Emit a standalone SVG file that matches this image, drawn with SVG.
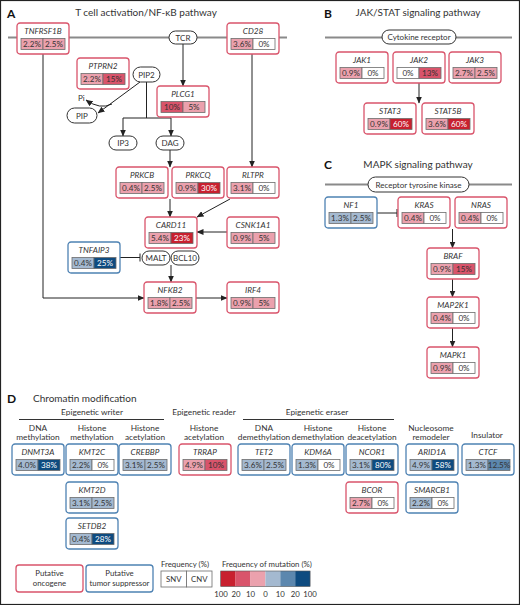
<svg xmlns="http://www.w3.org/2000/svg" width="520" height="605" viewBox="0 0 520 605">
<defs>
<marker id="ah" markerUnits="userSpaceOnUse" markerWidth="7" markerHeight="6" refX="6.5" refY="3" orient="auto">
<path d="M0,0 L7,3 L0,6 z" fill="#222"/>
</marker>
</defs>
<style>
text{font-family:Lato,"Open Sans","Liberation Sans",sans-serif;fill:#333}
.box{fill:#fff;stroke-width:1.3}
.onc .box{stroke:#d9546b}
.tsg .box{stroke:#4e82b3}
.lbl{font-style:italic;font-size:8.2px;text-anchor:middle}
.cell{stroke:#6d6d6d;stroke-width:0.8}
.ct{font-size:8.1px;text-anchor:middle}
.wt{fill:#fff}
.w{fill:#fff}.lp{fill:#eba1ad}.mr{fill:#d9546b}.dr{fill:#c8202f}
.lb{fill:#a4b9d0}.mb{fill:#5c87ae}.db{fill:#0e4b80}
.pill{fill:#fff;stroke:#333;stroke-width:1}
.pt{font-size:8px;text-anchor:middle}
.mem{stroke:#8a8a8a;stroke-width:2}
.con{stroke:#222;stroke-width:1;fill:none}
.ttl{font-size:10px;text-anchor:middle}
.pl{font-size:12px;font-weight:bold;fill:#111}
.hd{font-size:8.3px;text-anchor:middle}
.hl{stroke:#333;stroke-width:1}
.lg{font-size:7.8px;text-anchor:middle}
</style>
<rect x="0.5" y="0.5" width="519" height="604" fill="#fff" stroke="#222" stroke-width="1.2"/>

<!-- Panel titles -->
<text class="pl" x="7" y="18">A</text>
<text class="ttl" x="146" y="16">T cell activation/NF-κB pathway</text>
<text class="pl" x="324" y="18">B</text>
<text class="ttl" x="418" y="16">JAK/STAT signaling pathway</text>
<text class="pl" x="324" y="169">C</text>
<text class="ttl" x="418" y="168">MAPK signaling pathway</text>
<text class="pl" x="7" y="403">D</text>
<text x="33" y="402" style="font-size:10px">Chromatin modification</text>

<!-- membranes -->
<g id="membranes">
<line class="mem" x1="8" y1="37.5" x2="287" y2="37.5"/>
<line class="mem" x1="325" y1="37.5" x2="512" y2="37.5"/>
<line class="mem" x1="325" y1="184.5" x2="512" y2="184.5"/>
</g>

<!-- connectors -->
<g id="connectors">
<path class="con" d="M183,44 V86" marker-end="url(#ah)"/>
<path class="con" d="M252,53 V167" marker-end="url(#ah)"/>
<path class="con" d="M140,82 L98,113" marker-end="url(#ah)"/>
<path class="con" d="M112,104 Q100,110 86,100" marker-end="url(#ah)"/>
<path class="con" d="M146.5,82 V118 M123,118 H171"/>
<path class="con" d="M123,118 V136" marker-end="url(#ah)"/>
<path class="con" d="M171,118 V136" marker-end="url(#ah)"/>
<path class="con" d="M170,150 V167" marker-end="url(#ah)"/>
<path class="con" d="M170,199 V217" marker-end="url(#ah)"/>
<path class="con" d="M230,199 L197,217" marker-end="url(#ah)"/>
<path class="con" d="M227,232 H197" marker-end="url(#ah)"/>
<path class="con" d="M119,257.5 H140 M140,253.5 V261.5"/>
<path class="con" d="M171,265 V282" marker-end="url(#ah)"/>
<path class="con" d="M43,54 V298 H144" marker-end="url(#ah)"/>
<path class="con" d="M196,298 H227" marker-end="url(#ah)"/>
<path class="con" d="M419,82 V103" marker-end="url(#ah)"/>
<path class="con" d="M377,213 H397 M397,209 V217"/>
<path class="con" d="M452.5,229 V248" marker-end="url(#ah)"/>
<path class="con" d="M452.5,279 V297" marker-end="url(#ah)"/>
<path class="con" d="M452.5,328 V347" marker-end="url(#ah)"/>
</g>

<!-- pills -->
<g id="TCR"><rect class="pill" x="169" y="31" width="28" height="13" rx="6.5"/><text class="pt" x="183" y="40.5">TCR</text></g>
<g id="PIP2"><rect class="pill" x="133" y="67" width="27" height="15" rx="7.5"/><text class="pt" x="146.5" y="77.5">PIP2</text></g>
<g id="PIP"><rect class="pill" x="67" y="108" width="30" height="15" rx="7.5"/><text class="pt" x="82" y="118.5">PIP</text></g>
<g id="Pi"><text x="78" y="101" style="font-size:8px;fill:#333">Pi</text></g>
<g id="IP3"><rect class="pill" x="109" y="136" width="28" height="14" rx="7"/><text class="pt" x="123" y="146">IP3</text></g>
<g id="DAG"><rect class="pill" x="156" y="136" width="28" height="14" rx="7"/><text class="pt" x="170" y="146">DAG</text></g>
<g id="MALT"><rect class="pill" x="142" y="251" width="28" height="14" rx="7"/><text class="pt" x="156" y="261">MALT</text></g>
<g id="BCL10"><rect class="pill" x="171" y="251" width="28" height="14" rx="7"/><text class="pt" x="185" y="261">BCL10</text></g>
<g id="CytokineReceptor"><rect class="pill" x="382" y="30" width="74" height="14" rx="7"/><text class="pt" x="419" y="40">Cytokine receptor</text></g>
<g id="RTK"><rect class="pill" x="368" y="177" width="101" height="15" rx="7.5"/><text class="pt" x="418.5" y="187.5">Receptor tyrosine kinase</text></g>

<!-- Panel A genes -->
<g id="TNFRSF1B" class="onc" transform="translate(17,23)"><rect class="box" width="52" height="31" rx="3"/><text class="lbl" x="26" y="11">TNFRSF1B</text><rect class="cell lp" x="4" y="15.5" width="22" height="11"/><rect class="cell lp" x="26" y="15.5" width="22" height="11"/><text class="ct" x="15" y="24">2.2%</text><text class="ct" x="37" y="24">2.5%</text></g>
<g id="CD28" class="onc" transform="translate(227,23)"><rect class="box" width="52" height="31" rx="3"/><text class="lbl" x="26" y="11">CD28</text><rect class="cell lp" x="4" y="15.5" width="22" height="11"/><rect class="cell w" x="26" y="15.5" width="22" height="11"/><text class="ct" x="15" y="24">3.6%</text><text class="ct" x="37" y="24">0%</text></g>
<g id="PTPRN2" class="onc" transform="translate(77,58)"><rect class="box" width="52" height="31" rx="3"/><text class="lbl" x="26" y="11">PTPRN2</text><rect class="cell lp" x="4" y="15.5" width="22" height="11"/><rect class="cell mr" x="26" y="15.5" width="22" height="11"/><text class="ct" x="15" y="24">2.2%</text><text class="ct" x="37" y="24">15%</text></g>
<g id="PLCG1" class="onc" transform="translate(157,86)"><rect class="box" width="52" height="31" rx="3"/><text class="lbl" x="26" y="11">PLCG1</text><rect class="cell mr" x="4" y="15.5" width="22" height="11"/><rect class="cell lp" x="26" y="15.5" width="22" height="11"/><text class="ct" x="15" y="24">10%</text><text class="ct" x="37" y="24">5%</text></g>
<g id="PRKCB" class="onc" transform="translate(116,167)"><rect class="box" width="52" height="31" rx="3"/><text class="lbl" x="26" y="11">PRKCB</text><rect class="cell lp" x="4" y="15.5" width="22" height="11"/><rect class="cell lp" x="26" y="15.5" width="22" height="11"/><text class="ct" x="15" y="24">0.4%</text><text class="ct" x="37" y="24">2.5%</text></g>
<g id="PRKCQ" class="onc" transform="translate(172,167)"><rect class="box" width="52" height="31" rx="3"/><text class="lbl" x="26" y="11">PRKCQ</text><rect class="cell lp" x="4" y="15.5" width="22" height="11"/><rect class="cell dr" x="26" y="15.5" width="22" height="11"/><text class="ct" x="15" y="24">0.9%</text><text class="ct wt" x="37" y="24">30%</text></g>
<g id="RLTPR" class="onc" transform="translate(227,167)"><rect class="box" width="52" height="31" rx="3"/><text class="lbl" x="26" y="11">RLTPR</text><rect class="cell lp" x="4" y="15.5" width="22" height="11"/><rect class="cell w" x="26" y="15.5" width="22" height="11"/><text class="ct" x="15" y="24">3.1%</text><text class="ct" x="37" y="24">0%</text></g>
<g id="CARD11" class="onc" transform="translate(145,217)"><rect class="box" width="52" height="31" rx="3"/><text class="lbl" x="26" y="11">CARD11</text><rect class="cell lp" x="4" y="15.5" width="22" height="11"/><rect class="cell dr" x="26" y="15.5" width="22" height="11"/><text class="ct" x="15" y="24">5.4%</text><text class="ct wt" x="37" y="24">23%</text></g>
<g id="CSNK1A1" class="onc" transform="translate(227,217)"><rect class="box" width="52" height="31" rx="3"/><text class="lbl" x="26" y="11">CSNK1A1</text><rect class="cell lp" x="4" y="15.5" width="22" height="11"/><rect class="cell lp" x="26" y="15.5" width="22" height="11"/><text class="ct" x="15" y="24">0.9%</text><text class="ct" x="37" y="24">5%</text></g>
<g id="TNFAIP3" class="tsg" transform="translate(68,242)"><rect class="box" width="52" height="31" rx="3"/><text class="lbl" x="26" y="11">TNFAIP3</text><rect class="cell lb" x="4" y="15.5" width="22" height="11"/><rect class="cell db" x="26" y="15.5" width="22" height="11"/><text class="ct" x="15" y="24">0.4%</text><text class="ct wt" x="37" y="24">25%</text></g>
<g id="NFKB2" class="onc" transform="translate(144,282)"><rect class="box" width="52" height="31" rx="3"/><text class="lbl" x="26" y="11">NFKB2</text><rect class="cell lp" x="4" y="15.5" width="22" height="11"/><rect class="cell lp" x="26" y="15.5" width="22" height="11"/><text class="ct" x="15" y="24">1.8%</text><text class="ct" x="37" y="24">2.5%</text></g>
<g id="IRF4" class="onc" transform="translate(227,282)"><rect class="box" width="52" height="31" rx="3"/><text class="lbl" x="26" y="11">IRF4</text><rect class="cell lp" x="4" y="15.5" width="22" height="11"/><rect class="cell lp" x="26" y="15.5" width="22" height="11"/><text class="ct" x="15" y="24">0.9%</text><text class="ct" x="37" y="24">5%</text></g>

<!-- Panel B genes -->
<g id="JAK1" class="onc" transform="translate(336,52)"><rect class="box" width="52" height="31" rx="3"/><text class="lbl" x="26" y="11">JAK1</text><rect class="cell lp" x="4" y="15.5" width="22" height="11"/><rect class="cell w" x="26" y="15.5" width="22" height="11"/><text class="ct" x="15" y="24">0.9%</text><text class="ct" x="37" y="24">0%</text></g>
<g id="JAK2" class="onc" transform="translate(393,52)"><rect class="box" width="52" height="31" rx="3"/><text class="lbl" x="26" y="11">JAK2</text><rect class="cell w" x="4" y="15.5" width="22" height="11"/><rect class="cell mr" x="26" y="15.5" width="22" height="11"/><text class="ct" x="15" y="24">0%</text><text class="ct" x="37" y="24">13%</text></g>
<g id="JAK3" class="onc" transform="translate(449,52)"><rect class="box" width="52" height="31" rx="3"/><text class="lbl" x="26" y="11">JAK3</text><rect class="cell lp" x="4" y="15.5" width="22" height="11"/><rect class="cell lp" x="26" y="15.5" width="22" height="11"/><text class="ct" x="15" y="24">2.7%</text><text class="ct" x="37" y="24">2.5%</text></g>
<g id="STAT3" class="onc" transform="translate(364,103)"><rect class="box" width="52" height="31" rx="3"/><text class="lbl" x="26" y="11">STAT3</text><rect class="cell lp" x="4" y="15.5" width="22" height="11"/><rect class="cell dr" x="26" y="15.5" width="22" height="11"/><text class="ct" x="15" y="24">0.9%</text><text class="ct wt" x="37" y="24">60%</text></g>
<g id="STAT5B" class="onc" transform="translate(422,103)"><rect class="box" width="52" height="31" rx="3"/><text class="lbl" x="26" y="11">STAT5B</text><rect class="cell lp" x="4" y="15.5" width="22" height="11"/><rect class="cell dr" x="26" y="15.5" width="22" height="11"/><text class="ct" x="15" y="24">3.6%</text><text class="ct wt" x="37" y="24">60%</text></g>

<!-- Panel C genes -->
<g id="NF1" class="tsg" transform="translate(325,197)"><rect class="box" width="52" height="31" rx="3"/><text class="lbl" x="26" y="11">NF1</text><rect class="cell lb" x="4" y="15.5" width="22" height="11"/><rect class="cell lb" x="26" y="15.5" width="22" height="11"/><text class="ct" x="15" y="24">1.3%</text><text class="ct" x="37" y="24">2.5%</text></g>
<g id="KRAS" class="onc" transform="translate(398,197)"><rect class="box" width="52" height="31" rx="3"/><text class="lbl" x="26" y="11">KRAS</text><rect class="cell lp" x="4" y="15.5" width="22" height="11"/><rect class="cell w" x="26" y="15.5" width="22" height="11"/><text class="ct" x="15" y="24">0.4%</text><text class="ct" x="37" y="24">0%</text></g>
<g id="NRAS" class="onc" transform="translate(455,197)"><rect class="box" width="52" height="31" rx="3"/><text class="lbl" x="26" y="11">NRAS</text><rect class="cell lp" x="4" y="15.5" width="22" height="11"/><rect class="cell w" x="26" y="15.5" width="22" height="11"/><text class="ct" x="15" y="24">0.4%</text><text class="ct" x="37" y="24">0%</text></g>
<g id="BRAF" class="onc" transform="translate(427,248)"><rect class="box" width="52" height="31" rx="3"/><text class="lbl" x="26" y="11">BRAF</text><rect class="cell lp" x="4" y="15.5" width="22" height="11"/><rect class="cell mr" x="26" y="15.5" width="22" height="11"/><text class="ct" x="15" y="24">0.9%</text><text class="ct" x="37" y="24">15%</text></g>
<g id="MAP2K1" class="onc" transform="translate(427,297)"><rect class="box" width="52" height="31" rx="3"/><text class="lbl" x="26" y="11">MAP2K1</text><rect class="cell lp" x="4" y="15.5" width="22" height="11"/><rect class="cell w" x="26" y="15.5" width="22" height="11"/><text class="ct" x="15" y="24">0.4%</text><text class="ct" x="37" y="24">0%</text></g>
<g id="MAPK1" class="onc" transform="translate(427,347)"><rect class="box" width="52" height="31" rx="3"/><text class="lbl" x="26" y="11">MAPK1</text><rect class="cell lp" x="4" y="15.5" width="22" height="11"/><rect class="cell w" x="26" y="15.5" width="22" height="11"/><text class="ct" x="15" y="24">0.9%</text><text class="ct" x="37" y="24">0%</text></g>

<!-- Panel D headers -->
<g id="D-headers">
<text class="hd" x="92" y="415">Epigenetic writer</text>
<line class="hl" x1="19" y1="419.5" x2="164" y2="419.5"/>
<text class="hd" x="204" y="415">Epigenetic reader</text>
<text class="hd" x="317" y="415">Epigenetic eraser</text>
<line class="hl" x1="243" y1="419.5" x2="394" y2="419.5"/>
<text class="hd" x="38" y="431">DNA</text><text class="hd" x="38" y="440">methylation</text>
<text class="hd" x="92" y="431">Histone</text><text class="hd" x="92" y="440">methylation</text>
<text class="hd" x="145" y="431">Histone</text><text class="hd" x="145" y="440">acetylation</text>
<text class="hd" x="204" y="431">Histone</text><text class="hd" x="204" y="440">acetylation</text>
<text class="hd" x="264" y="431">DNA</text><text class="hd" x="264" y="440">demethylation</text>
<text class="hd" x="318" y="431">Histone</text><text class="hd" x="318" y="440">demethylation</text>
<text class="hd" x="372" y="431">Histone</text><text class="hd" x="372" y="440">deacetylation</text>
<text class="hd" x="431" y="431">Nucleosome</text><text class="hd" x="431" y="440">remodeler</text>
<text class="hd" x="487" y="438">Insulator</text>
</g>

<!-- Panel D genes -->
<g id="DNMT3A" class="tsg" transform="translate(12,444)"><rect class="box" width="52" height="31" rx="3"/><text class="lbl" x="26" y="11">DNMT3A</text><rect class="cell lb" x="4" y="15.5" width="22" height="11"/><rect class="cell db" x="26" y="15.5" width="22" height="11"/><text class="ct" x="15" y="24">4.0%</text><text class="ct wt" x="37" y="24">38%</text></g>
<g id="KMT2C" class="tsg" transform="translate(66,444)"><rect class="box" width="52" height="31" rx="3"/><text class="lbl" x="26" y="11">KMT2C</text><rect class="cell lb" x="4" y="15.5" width="22" height="11"/><rect class="cell w" x="26" y="15.5" width="22" height="11"/><text class="ct" x="15" y="24">2.2%</text><text class="ct" x="37" y="24">0%</text></g>
<g id="CREBBP" class="tsg" transform="translate(119,444)"><rect class="box" width="52" height="31" rx="3"/><text class="lbl" x="26" y="11">CREBBP</text><rect class="cell lb" x="4" y="15.5" width="22" height="11"/><rect class="cell lb" x="26" y="15.5" width="22" height="11"/><text class="ct" x="15" y="24">3.1%</text><text class="ct" x="37" y="24">2.5%</text></g>
<g id="TRRAP" class="onc" transform="translate(179,444)"><rect class="box" width="52" height="31" rx="3"/><text class="lbl" x="26" y="11">TRRAP</text><rect class="cell lp" x="4" y="15.5" width="22" height="11"/><rect class="cell mr" x="26" y="15.5" width="22" height="11"/><text class="ct" x="15" y="24">4.9%</text><text class="ct" x="37" y="24">10%</text></g>
<g id="TET2" class="tsg" transform="translate(238,444)"><rect class="box" width="52" height="31" rx="3"/><text class="lbl" x="26" y="11">TET2</text><rect class="cell lb" x="4" y="15.5" width="22" height="11"/><rect class="cell lb" x="26" y="15.5" width="22" height="11"/><text class="ct" x="15" y="24">3.6%</text><text class="ct" x="37" y="24">2.5%</text></g>
<g id="KDM6A" class="tsg" transform="translate(292,444)"><rect class="box" width="52" height="31" rx="3"/><text class="lbl" x="26" y="11">KDM6A</text><rect class="cell lb" x="4" y="15.5" width="22" height="11"/><rect class="cell w" x="26" y="15.5" width="22" height="11"/><text class="ct" x="15" y="24">1.3%</text><text class="ct" x="37" y="24">0%</text></g>
<g id="NCOR1" class="tsg" transform="translate(346,444)"><rect class="box" width="52" height="31" rx="3"/><text class="lbl" x="26" y="11">NCOR1</text><rect class="cell lb" x="4" y="15.5" width="22" height="11"/><rect class="cell db" x="26" y="15.5" width="22" height="11"/><text class="ct" x="15" y="24">3.1%</text><text class="ct wt" x="37" y="24">80%</text></g>
<g id="ARID1A" class="tsg" transform="translate(406,444)"><rect class="box" width="52" height="31" rx="3"/><text class="lbl" x="26" y="11">ARID1A</text><rect class="cell lb" x="4" y="15.5" width="22" height="11"/><rect class="cell db" x="26" y="15.5" width="22" height="11"/><text class="ct" x="15" y="24">4.9%</text><text class="ct wt" x="37" y="24">58%</text></g>
<g id="CTCF" class="tsg" transform="translate(462,444)"><rect class="box" width="52" height="31" rx="3"/><text class="lbl" x="26" y="11">CTCF</text><rect class="cell lb" x="4" y="15.5" width="22" height="11"/><rect class="cell mb" x="26" y="15.5" width="22" height="11"/><text class="ct" x="15" y="24">1.3%</text><text class="ct" x="37" y="24">12.5%</text></g>
<g id="KMT2D" class="tsg" transform="translate(66,482)"><rect class="box" width="52" height="31" rx="3"/><text class="lbl" x="26" y="11">KMT2D</text><rect class="cell lb" x="4" y="15.5" width="22" height="11"/><rect class="cell lb" x="26" y="15.5" width="22" height="11"/><text class="ct" x="15" y="24">3.1%</text><text class="ct" x="37" y="24">2.5%</text></g>
<g id="BCOR" class="onc" transform="translate(346,482)"><rect class="box" width="52" height="31" rx="3"/><text class="lbl" x="26" y="11">BCOR</text><rect class="cell lp" x="4" y="15.5" width="22" height="11"/><rect class="cell w" x="26" y="15.5" width="22" height="11"/><text class="ct" x="15" y="24">2.7%</text><text class="ct" x="37" y="24">0%</text></g>
<g id="SMARCB1" class="tsg" transform="translate(406,482)"><rect class="box" width="52" height="31" rx="3"/><text class="lbl" x="26" y="11">SMARCB1</text><rect class="cell lb" x="4" y="15.5" width="22" height="11"/><rect class="cell w" x="26" y="15.5" width="22" height="11"/><text class="ct" x="15" y="24">2.2%</text><text class="ct" x="37" y="24">0%</text></g>
<g id="SETDB2" class="tsg" transform="translate(66,518)"><rect class="box" width="52" height="31" rx="3"/><text class="lbl" x="26" y="11">SETDB2</text><rect class="cell lb" x="4" y="15.5" width="22" height="11"/><rect class="cell db" x="26" y="15.5" width="22" height="11"/><text class="ct" x="15" y="24">0.4%</text><text class="ct wt" x="37" y="24">28%</text></g>

<!-- Legend -->
<g id="legend">
<g class="onc"><rect class="box" x="16" y="565" width="67" height="27" rx="3"/></g>
<text class="lg" x="49.5" y="576">Putative</text><text class="lg" x="49.5" y="586">oncogene</text>
<g class="tsg"><rect class="box" x="86" y="565" width="67" height="27" rx="3"/></g>
<text class="lg" x="119.5" y="576">Putative</text><text class="lg" x="119.5" y="586">tumor suppressor</text>
<text x="161" y="567" style="font-size:7.8px">Frequency (%)</text>
<rect class="cell w" x="161" y="571" width="25.5" height="16"/><rect class="cell w" x="186.5" y="571" width="25.5" height="16"/>
<text class="lg" x="173.75" y="582">SNV</text><text class="lg" x="199.25" y="582">CNV</text>
<text x="222" y="567" style="font-size:7.8px">Frequency of mutation (%)</text>
<rect class="dr" x="220.7" y="571" width="14.9" height="15.5"/>
<rect class="mr" x="235.6" y="571" width="14.9" height="15.5"/>
<rect class="lp" x="250.5" y="571" width="14.9" height="15.5"/>
<rect class="lb" x="265.4" y="571" width="14.9" height="15.5"/>
<rect class="mb" x="280.3" y="571" width="14.9" height="15.5"/>
<rect class="db" x="295.2" y="571" width="14.9" height="15.5"/>
<rect x="220.7" y="571" width="89.4" height="15.5" fill="none" stroke="#555" stroke-width="0.6"/>
<text class="lg" x="221" y="597">100</text><text class="lg" x="236" y="597">20</text><text class="lg" x="250.5" y="597">10</text><text class="lg" x="265.4" y="597">0</text><text class="lg" x="280.3" y="597">10</text><text class="lg" x="295.2" y="597">20</text><text class="lg" x="310" y="597">100</text>
</g>
</svg>
